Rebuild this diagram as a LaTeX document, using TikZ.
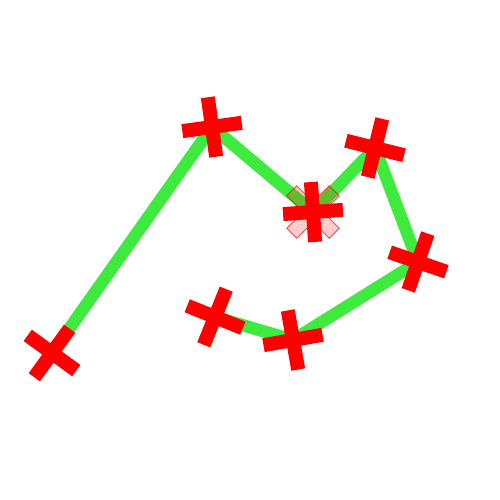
\documentclass[tikz,border=0pt]{standalone}
\usepackage{xcolor}
\usepackage{tikz}

\definecolor{trailgreen}{RGB}{62,234,62}

\tikzset{
    crosspath/.style={insert path={(0.6,0.14) -- (0.14,0.14) -- (0.14,0.6) -- (-0.14,0.6) -- (-0.14,0.14) -- (-0.6,0.14) -- (-0.6,-0.14) -- (-0.14,-0.14) -- (-0.14,-0.6) -- (0.14,-0.6) -- (0.14,-0.14) -- (0.6,-0.14) -- cycle}},
    crossmark/.pic={\fill[red] [crosspath];},
    ghostmark/.pic={\filldraw[red, fill opacity=0.2, draw opacity=0.7, line width=0.5pt] [crosspath];}
}

\begin{document}
\begin{tikzpicture}[
    trail/.style={draw=trailgreen, line width=7pt}
]
    \useasboundingbox[fill=white] (0,0) rectangle (10,10);

    % Points of the path
    \coordinate (p1) at (1.04,2.94);
    \coordinate (p2) at (4.24,7.46);
    \coordinate (p3) at (6.26,5.76);
    \coordinate (p4) at (7.50,7.04);
    \coordinate (p5) at (8.36,4.76);
    \coordinate (p6) at (5.86,3.20);
    \coordinate (p7) at (4.30,3.66);

    % Green trail
    \draw[trail] (p1) -- (p2) -- (p3) -- (p4) -- (p5) -- (p6) -- (p7);

    % Faded marker at the middle point
    \pic[rotate=45] at (p3) {ghostmark};

    % Red markers
    \foreach \p/\a in {p1/-36, p2/8, p3/4, p4/-14, p5/-19, p6/10, p7/-22}
        \pic[rotate=\a] at (\p) {crossmark};
\end{tikzpicture}
\end{document}
